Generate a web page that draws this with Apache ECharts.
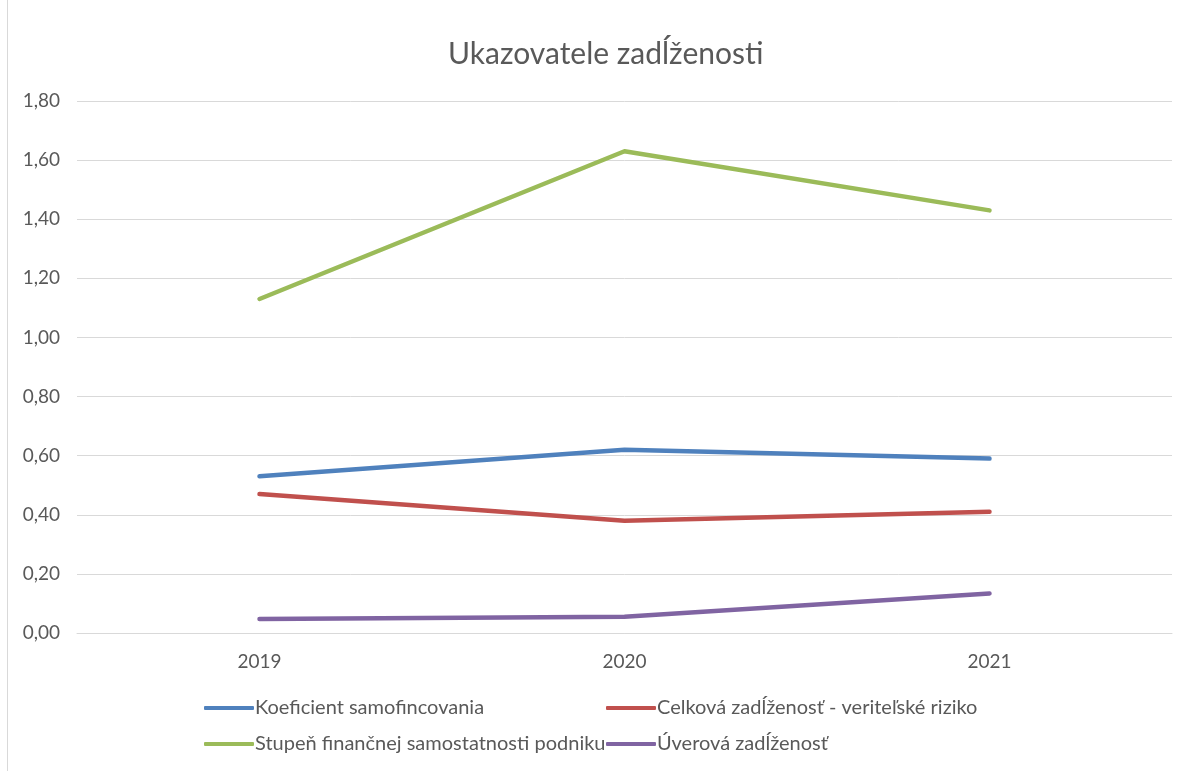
<!DOCTYPE html>
<html>
<head>
<meta charset="utf-8">
<script src="https://cdn.jsdelivr.net/npm/echarts@6/dist/echarts.min.js"></script>
<style>
	html, body { margin: 0; padding: 0; background: #ffffff; }
	#main { position: absolute; left: 0; top: 0; width: 1184px; height: 771px; }
	#frame { position: absolute; left: 7px; top: -2px; width: 1190px; height: 790px; border: 1px solid #d9d9d9; pointer-events: none; }
</style>
</head>
<body>
<div id="main"></div>
<div id="frame"></div>
<script>
// roky
var years = ['2019', '2020', '2021'];
// hodnoty ukazovatelov
var koeficient = [0.53, 0.62, 0.59];
var celkova = [0.47, 0.38, 0.41];
var stupen = [1.13, 1.63, 1.43];
var uverova = [0.047, 0.055, 0.134];

var names = [
	'Koeficient samofincovania',
	'Celková zadĺženosť - veriteľské riziko',
	'Stupeň finančnej samostatnosti podniku',
	'Úverová zadĺženosť'
];
var colors = ['#4F81BD', '#C0504D', '#9BBB59', '#8064A2'];
var font = 'Lato, "Open Sans", sans-serif';

var chart = echarts.init(document.getElementById('main'));

function makeSeries(name, data, color) {
	return {
		name: name,
		type: 'line',
		data: data,
		symbol: 'none',
		lineStyle: { width: 4.5, color: color, cap: 'round', join: 'round' },
		itemStyle: { color: color },
		emphasis: { disabled: true }
	};
}

chart.setOption({
	backgroundColor: '#ffffff',
	animation: false,
	title: {
		text: 'Ukazovatele zadĺženosti',
		left: 443,
		top: 34,
		textStyle: { fontFamily: font, fontSize: 30, fontWeight: 'normal', color: '#595959' }
	},
	legend: [{
		orient: 'vertical',
		left: 199,
		top: 693,
		itemGap: 16,
		itemWidth: 50,
		itemHeight: 4,
		icon: 'roundRect',
		data: [names[0], names[2]],
		textStyle: { fontFamily: font, fontSize: 20, color: '#595959', padding: [0, 0, 0, -4] }
	}, {
		orient: 'vertical',
		left: 601,
		top: 693,
		itemGap: 16,
		itemWidth: 50,
		itemHeight: 4,
		icon: 'roundRect',
		data: [names[1], names[3]],
		textStyle: { fontFamily: font, fontSize: 20, color: '#595959', padding: [0, 0, 0, -4] }
	}],
	grid: { left: 77, right: 12, top: 101, bottom: 138, containLabel: false },
	xAxis: {
		type: 'category',
		data: years,
		boundaryGap: true,
		axisLine: { show: true, lineStyle: { color: '#d9d9d9', width: 1 } },
		axisTick: { show: false },
		axisLabel: { fontFamily: font, fontSize: 19, color: '#595959', margin: 19 }
	},
	yAxis: {
		type: 'value',
		min: 0,
		max: 1.8,
		interval: 0.2,
		axisLine: { show: false },
		axisTick: { show: false },
		splitLine: { lineStyle: { color: '#d9d9d9', width: 1 } },
		axisLabel: {
			fontFamily: font, fontSize: 19, color: '#595959', margin: 17,
			formatter: function (v) { return v.toFixed(2).replace('.', ','); }
		}
	},
	series: [
		makeSeries(names[0], koeficient, colors[0]),
		makeSeries(names[1], celkova, colors[1]),
		makeSeries(names[2], stupen, colors[2]),
		makeSeries(names[3], uverova, colors[3])
	]
});
</script>
</body>
</html>
